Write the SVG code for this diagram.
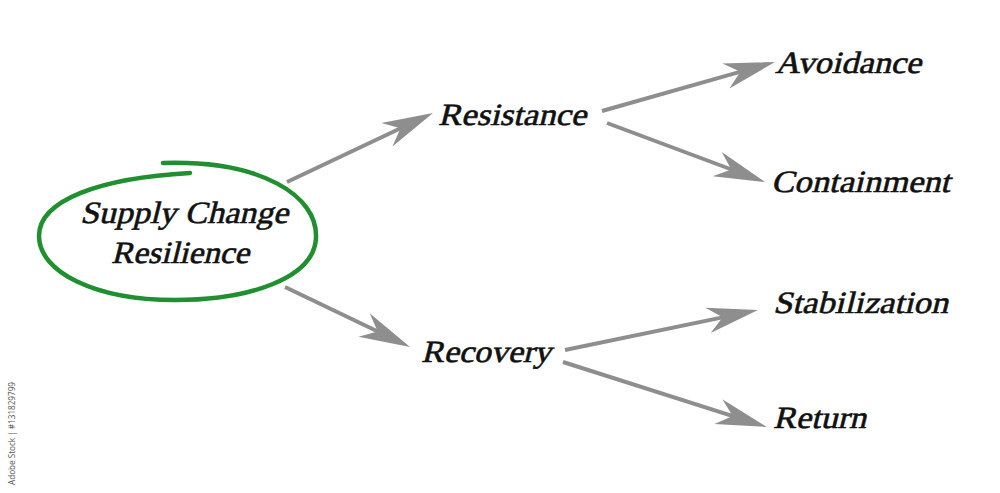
<svg xmlns="http://www.w3.org/2000/svg" width="1000" height="493" viewBox="0 0 1000 493">
<style>
.lbl{font-family:'Liberation Serif','Times New Roman',serif;font-size:31px;fill:#111;stroke:#111;stroke-width:0.6}
.conn{stroke:#8e8e8e;stroke-width:4;fill:none}
.wm{font-family:'Open Sans','Liberation Sans',sans-serif;font-size:9px;fill:#555}
</style>
<defs>
<marker id="ah" markerUnits="userSpaceOnUse" markerWidth="60" markerHeight="40" viewBox="-55 -20 60 40" refX="-30" refY="0" orient="auto">
<path d="M0,0 L-51,-13 L-36,0 L-51,13 Z" fill="#8e8e8e"/>
</marker>
</defs>
<rect width="1000" height="493" fill="#ffffff"/>
<g id="connectors">
<line class="conn" x1="287" y1="182" x2="405.9" y2="125.8" marker-end="url(#ah)"/>
<line class="conn" x1="285" y1="287" x2="383.0" y2="334.0" marker-end="url(#ah)"/>
<line class="conn" x1="602" y1="111" x2="746.1" y2="70.2" marker-end="url(#ah)"/>
<line class="conn" x1="607" y1="123" x2="736.9" y2="171.5" marker-end="url(#ah)"/>
<line class="conn" x1="565" y1="350" x2="728.6" y2="316.1" marker-end="url(#ah)"/>
<line class="conn" x1="563" y1="362" x2="738.4" y2="417.9" marker-end="url(#ah)"/>
</g>
<g id="node-root">
<path d="M163,163 C262,160 318,196 316,238 C314,278 250,300 175,300 C95,300 39,272 39,236 C39,200 100,178 190,173" fill="none" stroke="#1f8f2f" stroke-width="4.5" stroke-linecap="round"/>
<text class="lbl" transform="translate(184,223) skewX(-14)" text-anchor="middle" textLength="208" lengthAdjust="spacingAndGlyphs">Supply Change</text>
<text class="lbl" transform="translate(180,263) skewX(-14)" text-anchor="middle" textLength="138" lengthAdjust="spacingAndGlyphs">Resilience</text>
</g>
<g id="node-resistance">
<text class="lbl" transform="translate(438,125) skewX(-14)" textLength="148" lengthAdjust="spacingAndGlyphs">Resistance</text>
</g>
<g id="node-recovery">
<text class="lbl" transform="translate(421,362) skewX(-14)" textLength="130" lengthAdjust="spacingAndGlyphs">Recovery</text>
</g>
<g id="node-avoidance">
<text class="lbl" transform="translate(775,73) skewX(-14)" textLength="146" lengthAdjust="spacingAndGlyphs">Avoidance</text>
</g>
<g id="node-containment">
<text class="lbl" transform="translate(771,192) skewX(-14)" textLength="179" lengthAdjust="spacingAndGlyphs">Containment</text>
</g>
<g id="node-stabilization">
<text class="lbl" transform="translate(773,313) skewX(-14)" textLength="175" lengthAdjust="spacingAndGlyphs">Stabilization</text>
</g>
<g id="node-return">
<text class="lbl" transform="translate(773,428) skewX(-14)" textLength="93" lengthAdjust="spacingAndGlyphs">Return</text>
</g>
<text class="wm" transform="translate(15,485) rotate(-90)" textLength="103" lengthAdjust="spacingAndGlyphs">Adobe Stock | #131829799</text>
</svg>
